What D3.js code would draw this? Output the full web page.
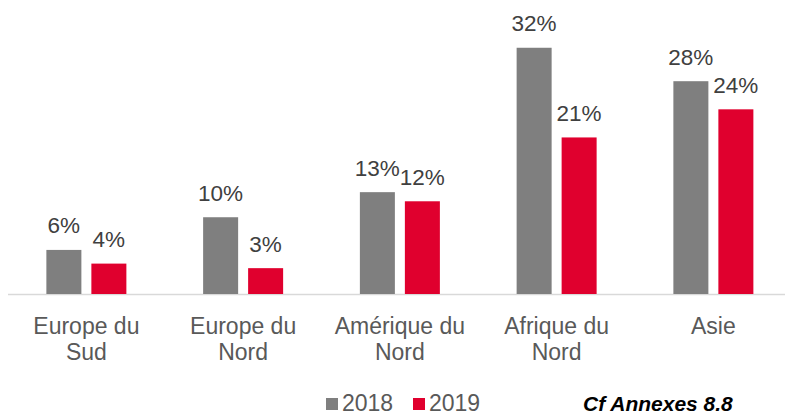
<!DOCTYPE html>
<html>
<head>
<meta charset="utf-8">
<script src="https://cdn.jsdelivr.net/npm/d3@7"></script>
<style>
  body { margin: 0; background: #fff; }
  text { font-family: "Liberation Sans", Arial, sans-serif; }
</style>
</head>
<body>
<div class="chart"></div>
<script>
// categories are split into two lines like the original
let categories = [["Europe du", "Sud"], ["Europe du", "Nord"], ["Amérique du", "Nord"], ["Afrique du", "Nord"], ["Asie"]];
let series = ["2018", "2019"];
let values2018 = [5.8, 10.1, 13.4, 32.4, 28.0];
let values2019 = [4.0, 3.4, 12.2, 20.6, 24.3];
let colors = ["#7f7f7f", "#e0002e"];

let svgWidth = 785;
let svgHeight = 412;

let svg = d3.select(".chart")
  .append("svg")
  .attr("width", svgWidth)
  .attr("height", svgHeight);

let baseY = 294;

let catKeys = categories.map(c => c.join(" "));
let x0 = d3.scaleBand()
  .domain(catKeys)
  .range([8, 791.75]);

let bw = x0.bandwidth();
let x1 = d3.scaleBand()
  .domain(series)
  .range([bw / 2 - 40, bw / 2 + 40])
  .paddingInner(0.222);

let y = d3.scaleLinear()
  .domain([0, 35])
  .range([baseY, baseY - 35 * 7.6]);

let rows = catKeys.map((k, i) => ({ key: k, vals: [values2018[i], values2019[i]] }));

// axis line
svg.append("line")
  .attr("x1", 8).attr("x2", 785)
  .attr("y1", baseY + 0.5).attr("y2", baseY + 0.5)
  .attr("stroke", "#d9d9d9")
  .attr("stroke-width", 1.5);

let groups = svg.selectAll(".grp")
  .data(rows)
  .enter()
  .append("g")
  .attr("transform", d => `translate(${x0(d.key)},0)`);

groups.selectAll("rect")
  .data(d => d.vals.map((v, j) => ({ s: series[j], v: v, j: j })))
  .enter()
  .append("rect")
  .attr("x", d => x1(d.s))
  .attr("width", x1.bandwidth())
  .attr("y", d => y(d.v))
  .attr("height", d => y(0) - y(d.v))
  .attr("fill", d => colors[d.j]);

groups.selectAll(".lbl")
  .data(d => d.vals.map((v, j) => ({ s: series[j], v: v })))
  .enter()
  .append("text")
  .attr("text-anchor", "middle")
  .attr("x", d => x1(d.s) + x1.bandwidth() / 2)
  .attr("y", d => y(d.v) - 16.5)
  .attr("font-size", "22.5px")
  .attr("fill", "#404040")
  .text(d => Math.round(d.v) + "%");

// category labels
let catText = svg.selectAll(".cat")
  .data(categories)
  .enter()
  .append("text")
  .attr("text-anchor", "middle")
  .attr("font-size", "23px")
  .attr("fill", "#595959")
  .attr("x", (d, i) => x0(catKeys[i]) + bw / 2)
  .attr("y", 333.5);

catText.selectAll("tspan")
  .data(d => d)
  .enter()
  .append("tspan")
  .attr("x", function() { return d3.select(this.parentNode).attr("x"); })
  .attr("dy", (d, i) => i === 0 ? 0 : 26)
  .text(d => d);

// legend
let legendX = [326, 413];
series.forEach((s, i) => {
  svg.append("rect")
    .attr("x", legendX[i]).attr("y", 398)
    .attr("width", 12).attr("height", 12)
    .attr("fill", colors[i]);
  svg.append("text")
    .attr("x", legendX[i] + 16).attr("y", 410.5)
    .attr("font-size", "23px")
    .attr("fill", "#595959")
    .text(s);
});

svg.append("text")
  .attr("x", 583).attr("y", 410.5)
  .attr("font-size", "21px")
  .attr("font-weight", "bold")
  .attr("font-style", "italic")
  .attr("fill", "#000")
  .text("Cf Annexes 8.8");
</script>
</body>
</html>
